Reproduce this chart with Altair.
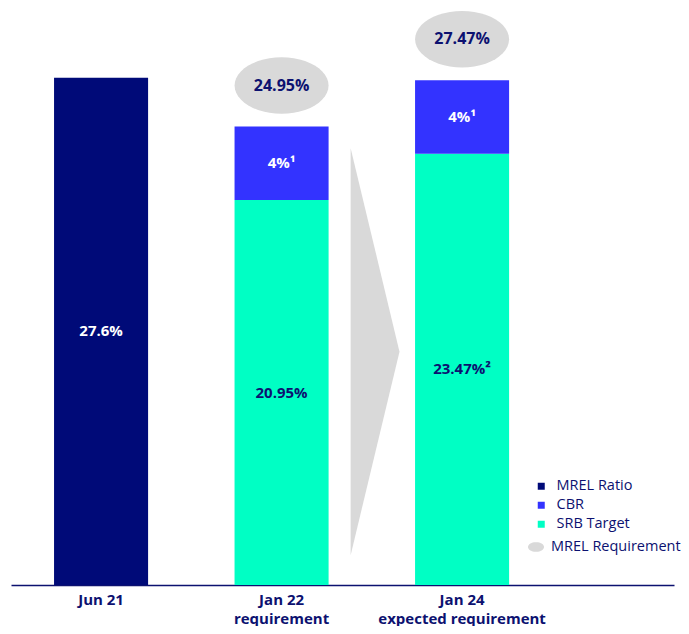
import math
import altair as alt
import pandas as pd

# ---- data ----
categories = ["Jun 21", "Jan 22\nrequirement", "Jan 24\nexpected requirement"]
bar_category = ["Jun 21", "Jan 22\nrequirement", "Jan 22\nrequirement",
                "Jan 24\nexpected requirement", "Jan 24\nexpected requirement"]
bar_series = ["MREL Ratio", "SRB Target", "CBR", "SRB Target", "CBR"]
bar_values = [27.6, 20.95, 4.0, 23.47, 4.0]
bar_labels = ["27.6%", "20.95%", "4%¹", "23.47%²", "4%¹"]
req_category = ["Jan 22\nrequirement", "Jan 24\nexpected requirement"]
req_values = [24.95, 27.47]
req_labels = ["24.95%", "27.47%"]
series = ["MREL Ratio", "CBR", "SRB Target"]
colors = ["#000a78", "#3333ff", "#00ffc4"]
light_label_series = ["MREL Ratio", "CBR"]
arrow_category = ["Jan 22\nrequirement"]
arrow_mid = [12.7]

NAVY = "#0c1170"
GREY = "#d9d9d9"

y0, y1, running = [], [], {}
for c, v in zip(bar_category, bar_values):
    start = running.get(c, 0.0)
    y0.append(start)
    y1.append(start + v)
    running[c] = start + v

bars_df = pd.DataFrame({
    "cat": bar_category,
    "series": bar_series,
    "value": bar_values,
    "label": bar_labels,
    "y0": y0,
    "y1": y1,
    "mid": [(a + b) / 2 for a, b in zip(y0, y1)],
    "light": [s in light_label_series for s in bar_series],
})
req_df = pd.DataFrame({
    "cat": req_category,
    "value": req_values,
    "label": req_labels,
    "kind": ["MREL Requirement"] * len(req_values),
})
arrow_df = pd.DataFrame({"cat": arrow_category, "mid": arrow_mid})

# ellipse symbol outline (unit square, aspect 0.6)
_pts = [(math.cos(2 * math.pi * k / 48), 0.6 * math.sin(2 * math.pi * k / 48)) for k in range(48)]
ellipse_path = "M" + " L".join(f"{px:.3f},{py:.3f}" for px, py in _pts) + " Z"
arrow_path = "M-0.12,-1 L0.12,0 L-0.12,1 Z"

x_scale = alt.Scale(domain=categories, paddingInner=0.479, paddingOuter=0.576, align=0.207)
y_scale = alt.Scale(domain=[0, 31.4], nice=False, zero=True)
x_axis = alt.Axis(labelAngle=0, labelFontWeight="bold", labelFontSize=15,
                  labelColor=NAVY, labelFont="Open Sans", ticks=False,
                  domainColor=NAVY, domainWidth=1.5, labelPadding=7,
                  labelLineHeight=19, grid=False,
                  labelExpr="split(datum.label, '\\n')")


def X():
    return alt.X("cat:N", scale=x_scale, axis=x_axis, title=None)


def Y(field):
    return alt.Y(field, scale=y_scale, axis=None)


bars = alt.Chart(bars_df).mark_bar().encode(
    x=X(),
    y=Y("y0:Q"),
    y2="y1:Q",
    color=alt.Color("series:N", scale=alt.Scale(domain=series, range=colors),
                    legend=alt.Legend(title=None, orient="none", legendX=523, legendY=471,
                                      symbolType="square", symbolSize=49, labelFontSize=14.5,
                                      labelColor=NAVY, labelFont="Open Sans", labelOffset=8,
                                      rowPadding=4, symbolStrokeWidth=0)),
)

text_light = alt.Chart(bars_df).transform_filter("datum.light").mark_text(
    fontWeight="bold", fontSize=15, font="Open Sans", color="white"
).encode(x=X(), y=Y("mid:Q"), text="label:N")

text_dark = alt.Chart(bars_df).transform_filter("!datum.light").mark_text(
    fontWeight="bold", fontSize=15, font="Open Sans", color=NAVY
).encode(x=X(), y=Y("mid:Q"), text="label:N")

arrow = alt.Chart(arrow_df).mark_point(
    shape=arrow_path, filled=True, color=GREY, opacity=1, size=407 * 407, xOffset=93.5
).encode(x=X(), y=Y("mid:Q"))

ellipses = alt.Chart(req_df).mark_point(
    filled=True, color=GREY, opacity=1, size=94 * 94, yOffset=-41
).encode(
    x=X(),
    y=Y("value:Q"),
    shape=alt.Shape("kind:N", scale=alt.Scale(domain=["MREL Requirement"], range=[ellipse_path]),
                    legend=alt.Legend(title=None, orient="none", legendX=517, legendY=531,
                                      symbolSize=256, symbolFillColor=GREY, symbolStrokeWidth=0,
                                      labelFontSize=14.5, labelColor=NAVY, labelFont="Open Sans",
                                      labelOffset=7)),
)

ellipse_text = alt.Chart(req_df).mark_text(
    fontWeight="bold", fontSize=16, font="Open Sans", color=NAVY, yOffset=-41
).encode(x=X(), y=Y("value:Q"), text="label:N")

chart = alt.layer(arrow, bars, text_light, text_dark, ellipses, ellipse_text).properties(
    width=663, height=577,
    padding={"left": 3, "top": 0, "right": 0, "bottom": 0},
).configure_view(stroke=None)

chart.save("out.html", embed_options={"renderer": "svg", "actions": False})
